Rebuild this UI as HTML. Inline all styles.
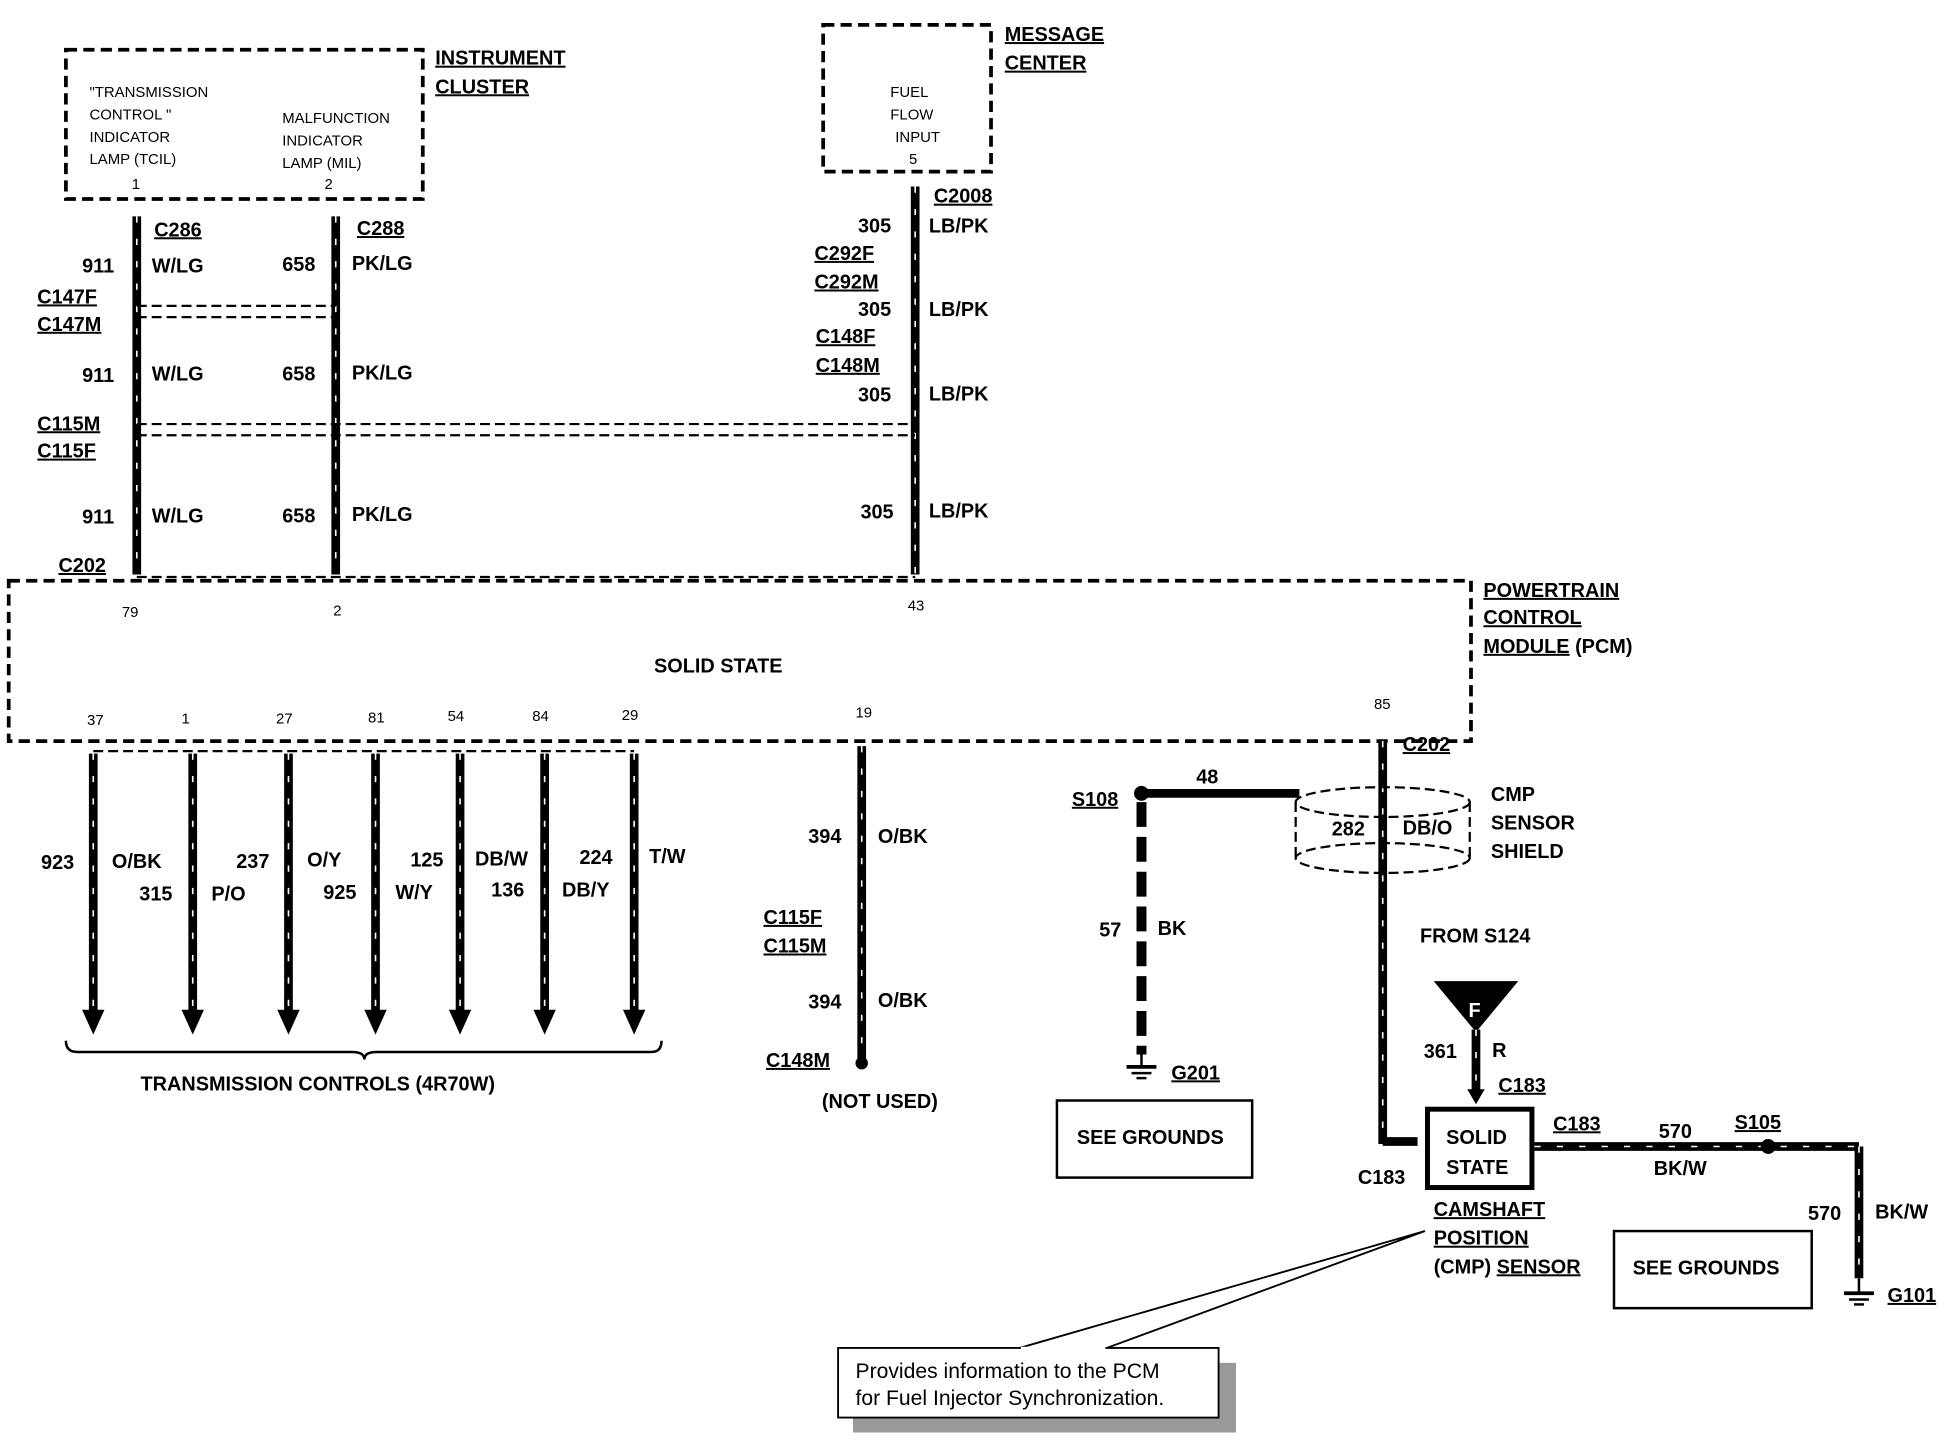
<!DOCTYPE html>
<html><head><meta charset="utf-8"><style>
html,body{margin:0;padding:0;background:#fff;}
svg{display:block;}
text{font-family:"Liberation Sans",Arial,sans-serif;font-weight:bold;fill:#000;}
.w{stroke:#000;stroke-width:7;fill:none;}
.h{stroke:#fff;stroke-width:1.3;stroke-dasharray:5 13;fill:none;}
.d{stroke:#000;stroke-width:3;stroke-dasharray:9 5;fill:none;}
.d1{stroke:#000;stroke-width:1.8;stroke-dasharray:8 4;fill:none;}
.s{font-size:16px;}
.m{font-size:12px;font-weight:normal;}
.u{text-decoration:underline;}
</style></head><body>
<svg width="1946" height="1440" viewBox="0 0 1565 1158" xmlns="http://www.w3.org/2000/svg">
<defs>
<pattern id="dots" width="6" height="6" patternUnits="userSpaceOnUse"><rect width="6" height="6" fill="#fff"/><circle cx="2" cy="2" r="0.9" fill="#ccc"/><circle cx="5" cy="4.5" r="0.6" fill="#ddd"/></pattern>
<marker id="ar" markerWidth="6" markerHeight="6" refX="3" refY="3" orient="auto"><path d="M0,0 L6,3 L0,6 z" fill="#000"/></marker>
</defs>
<!-- Instrument cluster -->
<rect x="53" y="40" width="287" height="120" fill="url(#dots)" class="d"/>
<text x="350" y="52" class="s u">INSTRUMENT</text>
<text x="350" y="75" class="s u">CLUSTER</text>
<g class="m" font-size="12">
<text x="72" y="78" class="m">"TRANSMISSION</text>
<text x="72" y="96" class="m">CONTROL "</text>
<text x="72" y="114" class="m">INDICATOR</text>
<text x="72" y="132" class="m">LAMP (TCIL)</text>
<text x="106" y="152" class="m">1</text>
<text x="227" y="99" class="m">MALFUNCTION</text>
<text x="227" y="117" class="m">INDICATOR</text>
<text x="227" y="135" class="m">LAMP (MIL)</text>
<text x="261" y="152" class="m">2</text>
</g>
<!-- Message center -->
<rect x="662" y="20" width="135" height="118" fill="url(#dots)" class="d"/>
<text x="808" y="33" class="s u">MESSAGE</text>
<text x="808" y="56" class="s u">CENTER</text>
<text x="716" y="78" class="m">FUEL</text>
<text x="716" y="96" class="m">FLOW</text>
<text x="720" y="114" class="m">INPUT</text>
<text x="731" y="132" class="m">5</text>
<!-- upper wires -->
<g>
<line x1="110" y1="174" x2="110" y2="462" class="w"/><line x1="110" y1="174" x2="110" y2="462" class="h"/>
<line x1="270" y1="174" x2="270" y2="462" class="w"/><line x1="270" y1="174" x2="270" y2="462" class="h"/>
<line x1="736" y1="150" x2="736" y2="462" class="w"/><line x1="736" y1="150" x2="736" y2="462" class="h"/>
</g>
<line x1="110" y1="246" x2="270" y2="246" class="d1"/>
<line x1="110" y1="255" x2="270" y2="255" class="d1"/>
<line x1="110" y1="341" x2="736" y2="341" class="d1"/>
<line x1="110" y1="350" x2="736" y2="350" class="d1"/>
<line x1="110" y1="464" x2="736" y2="464" class="d1"/>
<text x="124" y="190" class="s u">C286</text>
<text x="287" y="189" class="s u">C288</text>
<text x="66" y="219" class="s">911</text><text x="122" y="219" class="s">W/LG</text>
<text x="227" y="218" class="s">658</text><text x="283" y="217" class="s">PK/LG</text>
<text x="30" y="244" class="s u">C147F</text>
<text x="30" y="266" class="s u">C147M</text>
<text x="66" y="307" class="s">911</text><text x="122" y="306" class="s">W/LG</text>
<text x="227" y="306" class="s">658</text><text x="283" y="305" class="s">PK/LG</text>
<text x="30" y="346" class="s u">C115M</text>
<text x="30" y="368" class="s u">C115F</text>
<text x="66" y="421" class="s">911</text><text x="122" y="420" class="s">W/LG</text>
<text x="227" y="420" class="s">658</text><text x="283" y="419" class="s">PK/LG</text>
<text x="47" y="460" class="s u">C202</text>
<text x="751" y="163" class="s u">C2008</text>
<text x="690" y="187" class="s">305</text><text x="747" y="187" class="s">LB/PK</text>
<text x="655" y="209" class="s u">C292F</text>
<text x="655" y="232" class="s u">C292M</text>
<text x="690" y="254" class="s">305</text><text x="747" y="254" class="s">LB/PK</text>
<text x="656" y="276" class="s u">C148F</text>
<text x="656" y="299" class="s u">C148M</text>
<text x="690" y="323" class="s">305</text><text x="747" y="322" class="s">LB/PK</text>
<text x="692" y="417" class="s">305</text><text x="747" y="416" class="s">LB/PK</text>
<!-- PCM -->
<rect x="7" y="467" width="1176" height="129" fill="url(#dots)" class="d"/>
<text x="526" y="541" class="s">SOLID STATE</text>
<text x="1193" y="480" class="s u">POWERTRAIN</text>
<text x="1193" y="502" class="s u">CONTROL</text>
<text x="1193" y="525" class="s"><tspan class="u">MODULE</tspan> (PCM)</text>
<text x="98" y="496" class="m">79</text><text x="268" y="495" class="m">2</text><text x="730" y="491" class="m">43</text>
<g class="m">
<text x="70" y="583" class="m">37</text><text x="146" y="582" class="m">1</text><text x="222" y="582" class="m">27</text>
<text x="296" y="581" class="m">81</text><text x="360" y="580" class="m">54</text><text x="428" y="580" class="m">84</text>
<text x="500" y="579" class="m">29</text><text x="688" y="577" class="m">19</text><text x="1105" y="570" class="m">85</text>
</g>
<line x1="75" y1="604" x2="510" y2="604" class="d1"/>
<!-- bottom wires -->
<g>
<line x1="75" y1="606" x2="75" y2="815" class="w"/><line x1="75" y1="606" x2="75" y2="815" class="h"/>
<line x1="155" y1="606" x2="155" y2="815" class="w"/><line x1="155" y1="606" x2="155" y2="815" class="h"/>
<line x1="232" y1="606" x2="232" y2="815" class="w"/><line x1="232" y1="606" x2="232" y2="815" class="h"/>
<line x1="302" y1="606" x2="302" y2="815" class="w"/><line x1="302" y1="606" x2="302" y2="815" class="h"/>
<line x1="370" y1="606" x2="370" y2="815" class="w"/><line x1="370" y1="606" x2="370" y2="815" class="h"/>
<line x1="438" y1="606" x2="438" y2="815" class="w"/><line x1="438" y1="606" x2="438" y2="815" class="h"/>
<line x1="510" y1="606" x2="510" y2="815" class="w"/><line x1="510" y1="606" x2="510" y2="815" class="h"/>
<g fill="#000">
<path d="M66,812 L84,812 L75,832z"/><path d="M146,812 L164,812 L155,832z"/><path d="M223,812 L241,812 L232,832z"/>
<path d="M293,812 L311,812 L302,832z"/><path d="M361,812 L379,812 L370,832z"/><path d="M429,812 L447,812 L438,832z"/>
<path d="M501,812 L519,812 L510,832z"/>
</g>
<line x1="693" y1="600" x2="693" y2="852" class="w"/><line x1="693" y1="600" x2="693" y2="852" class="h"/>
<circle cx="693" cy="855" r="5" fill="#000"/>
</g>
<text x="33" y="699" class="s">923</text><text x="90" y="698" class="s">O/BK</text>
<text x="112" y="724" class="s">315</text><text x="170" y="724" class="s">P/O</text>
<text x="190" y="698" class="s">237</text><text x="247" y="697" class="s">O/Y</text>
<text x="260" y="723" class="s">925</text><text x="318" y="723" class="s">W/Y</text>
<text x="330" y="697" class="s">125</text><text x="382" y="696" class="s">DB/W</text>
<text x="395" y="721" class="s">136</text><text x="452" y="721" class="s">DB/Y</text>
<text x="466" y="695" class="s">224</text><text x="522" y="694" class="s">T/W</text>
<path d="M53,837 Q53,846 62,846 L283,846 Q293,846 293,852 Q293,846 303,846 L524,846 Q532,846 532,837" stroke="#000" stroke-width="2" fill="none"/>
<text x="113" y="877" class="s">TRANSMISSION CONTROLS (4R70W)</text>
<text x="650" y="678" class="s">394</text><text x="706" y="678" class="s">O/BK</text>
<text x="614" y="743" class="s u">C115F</text>
<text x="614" y="766" class="s u">C115M</text>
<text x="650" y="811" class="s">394</text><text x="706" y="810" class="s">O/BK</text>
<text x="616" y="858" class="s u">C148M</text>
<text x="661" y="891" class="s">(NOT USED)</text>
<!-- right side -->
<line x1="1112" y1="596" x2="1112" y2="920" class="w"/><line x1="1112" y1="596" x2="1112" y2="920" class="h"/>
<path d="M1112,918 L1140,918" class="w"/>
<text x="1128" y="604" class="s u">C202</text>
<ellipse cx="1112" cy="645" rx="70" ry="12" class="d1" stroke-width="2.5"/>
<ellipse cx="1112" cy="690" rx="70" ry="12" class="d1" stroke-width="2.5"/>
<line x1="1042" y1="645" x2="1042" y2="690" class="d1" stroke-width="2.5"/>
<line x1="1182" y1="645" x2="1182" y2="690" class="d1" stroke-width="2.5"/>
<text x="1071" y="672" class="s">282</text><text x="1128" y="671" class="s">DB/O</text>
<text x="1199" y="644" class="s">CMP</text>
<text x="1199" y="667" class="s">SENSOR</text>
<text x="1199" y="690" class="s">SHIELD</text>
<text x="1142" y="758" class="s">FROM S124</text>
<circle cx="918" cy="638" r="6" fill="#000"/>
<line x1="918" y1="638" x2="1045" y2="638" stroke="#000" stroke-width="7"/>
<text x="962" y="630" class="s">48</text>
<text x="862" y="648" class="s u">S108</text>
<line x1="918" y1="645" x2="918" y2="848" stroke="#000" stroke-width="8" stroke-dasharray="20 8"/>
<text x="884" y="753" class="s">57</text><text x="931" y="752" class="s">BK</text>
<line x1="918" y1="848" x2="918" y2="858" stroke="#000" stroke-width="2"/>
<line x1="906" y1="858" x2="930" y2="858" stroke="#000" stroke-width="3"/>
<line x1="910" y1="863" x2="926" y2="863" stroke="#000" stroke-width="2"/>
<line x1="914" y1="867" x2="922" y2="867" stroke="#000" stroke-width="2"/>
<text x="942" y="868" class="s u">G201</text>
<rect x="850" y="885" width="157" height="62" fill="#fff" stroke="#000" stroke-width="2"/>
<text x="866" y="920" class="s">SEE GROUNDS</text>
<path d="M1153,789 L1221,789 L1187,830z" fill="#000"/>
<text x="1181" y="818" class="s" style="fill:#fff">F</text>
<line x1="1187" y1="828" x2="1187" y2="880" class="w"/><line x1="1187" y1="828" x2="1187" y2="880" class="h"/>
<path d="M1180,876 L1194,876 L1187,888z" fill="#000"/>
<text x="1145" y="851" class="s">361</text><text x="1200" y="850" class="s">R</text>
<text x="1205" y="878" class="s u">C183</text>
<rect x="1148" y="892" width="84" height="63" fill="#fff" stroke="#000" stroke-width="4"/>
<text x="1163" y="920" class="s">SOLID</text>
<text x="1163" y="944" class="s">STATE</text>
<text x="1092" y="952" class="s">C183</text>
<text x="1249" y="909" class="s u">C183</text>
<line x1="1234" y1="922" x2="1495" y2="922" class="w"/><line x1="1234" y1="922" x2="1495" y2="922" class="h" stroke-dasharray="14 10"/>
<circle cx="1422" cy="922" r="6" fill="#000"/>
<text x="1334" y="915" class="s">570</text><text x="1330" y="945" class="s">BK/W</text>
<text x="1395" y="908" class="s u">S105</text>
<line x1="1495" y1="922" x2="1495" y2="1028" class="w"/><line x1="1495" y1="922" x2="1495" y2="1028" class="h"/>
<text x="1454" y="981" class="s">570</text><text x="1508" y="980" class="s">BK/W</text>
<line x1="1495" y1="1028" x2="1495" y2="1040" stroke="#000" stroke-width="2"/>
<line x1="1483" y1="1040" x2="1507" y2="1040" stroke="#000" stroke-width="3"/>
<line x1="1487" y1="1045" x2="1503" y2="1045" stroke="#000" stroke-width="2"/>
<line x1="1491" y1="1049" x2="1499" y2="1049" stroke="#000" stroke-width="2"/>
<text x="1518" y="1047" class="s u">G101</text>
<rect x="1298" y="990" width="159" height="62" fill="#fff" stroke="#000" stroke-width="2"/>
<text x="1313" y="1025" class="s">SEE GROUNDS</text>
<text x="1153" y="978" class="s u">CAMSHAFT</text>
<text x="1153" y="1001" class="s u">POSITION</text>
<text x="1153" y="1024" class="s">(CMP) <tspan class="u">SENSOR</tspan></text>
<!-- callout -->
<path d="M1146,990 L820,1084 L890,1084 Z" fill="#fff" stroke="#000" stroke-width="1.5"/>
<rect x="686" y="1096" width="308" height="56" fill="#999"/>
<rect x="674" y="1084" width="306" height="56" fill="#fff" stroke="#000" stroke-width="1.5"/>
<line x1="821" y1="1084" x2="889" y2="1084" stroke="#fff" stroke-width="2"/>
<text x="688" y="1108" style="font-size:17px;font-weight:normal">Provides information to the PCM</text>
<text x="688" y="1130" style="font-size:17px;font-weight:normal">for Fuel Injector Synchronization.</text>
</svg>
</body></html>
